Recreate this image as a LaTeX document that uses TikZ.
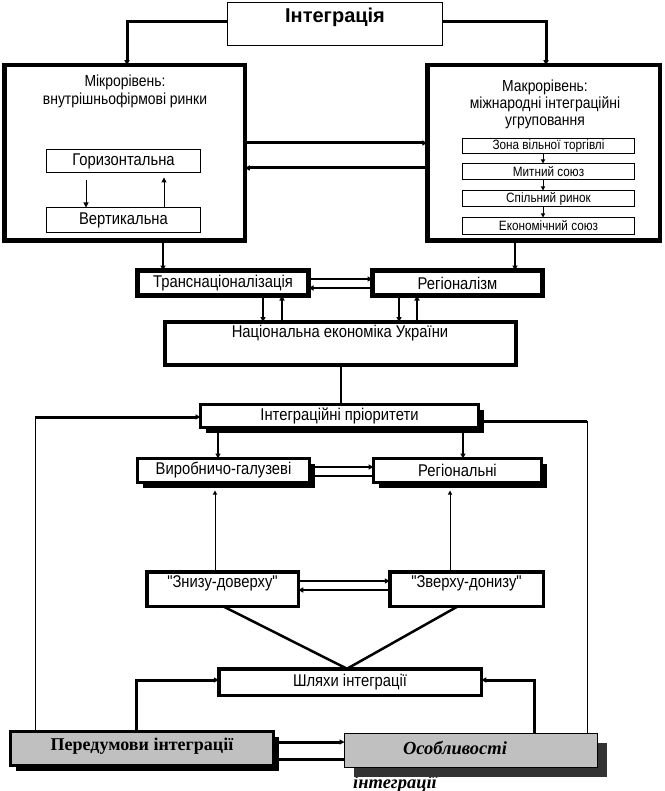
\documentclass[tikz,border=0pt]{standalone}
\usepackage{fontspec}
\setmainfont{Liberation Sans}[FakeStretch=0.87]
\newfontfamily\quotefont{Liberation Sans}[FakeStretch=0.87, Ligatures=TeXOff]
\newfontfamily\titlefont{Liberation Sans}
\newfontfamily\tnr{Liberation Serif}
\usetikzlibrary{arrows.meta,shadows}
\definecolor{boxgray}{HTML}{C0C0C0}
\definecolor{shgray}{HTML}{333333}
\begin{document}
\begin{tikzpicture}[x=1pt,y=-1pt,
  box/.style={draw, rectangle, inner sep=0pt, outer sep=0pt, align=center,
    font=\fontsize{17}{19}\selectfont},
  thinbox/.style={box, line width=1pt},
  bigbox/.style={box, line width=4.5pt},
  fatbox/.style={box, line width=5pt},
  midbox/.style={box, line width=3.5pt},
  shbox/.style={box, line width=3pt, fill=white,
    general shadow={fill=black, shadow xshift=5pt, shadow yshift=-5pt}},
  smallbox/.style={thinbox, font=\fontsize{13.5}{15}\selectfont},
  txt/.style={inner sep=0pt, align=center, font=\fontsize{17}{19}\selectfont},
  thk/.style={line width=3pt},
  med/.style={line width=2.5pt},
  thn/.style={line width=1pt},
  arr/.style={-{Triangle[length=5pt,width=5pt]}},
  sarr/.style={-{Triangle[length=4pt,width=4pt]}}
]
\useasboundingbox (0,0) rectangle (664,791);

% ---------- boxes ----------
\node[thinbox, minimum width=215, minimum height=43] (integ) at (335,24) {};
\node[txt, font=\fontsize{20}{22}\selectfont\titlefont\bfseries] (integt) at (335,17) {Інтеграція};

\node[bigbox, minimum width=240.5, minimum height=175.5] (micro) at (124.5,153) {};
\node[txt, font=\fontsize{16}{18}\selectfont] (microt) at (125,91) {Мікрорівень:\\внутрішньофірмові ринки};
\node[thinbox, minimum width=154, minimum height=23] (hor) at (123.5,161) {Горизонтальна};
\node[thinbox, minimum width=154, minimum height=25] (vert) at (123.5,220) {Вертикальна};

\node[bigbox, minimum width=232.5, minimum height=175.5] (macro) at (543.5,153) {};
\node[txt, font=\fontsize{16}{17}\selectfont] (macrot) at (545,104) {Макрорівень:\\міжнародні інтеграційні\\угруповання};
\node[smallbox, minimum width=172, minimum height=15] (zona) at (548.5,146) {Зона вільної торгівлі};
\node[smallbox, minimum width=172, minimum height=16] (mytn) at (548.5,171.5) {Митний союз};
\node[smallbox, minimum width=172, minimum height=16] (spil) at (548.5,198.5) {Спільний ринок};
\node[smallbox, minimum width=172, minimum height=17] (ekon) at (548.5,226) {Економічний союз};

\node[fatbox, minimum width=171, minimum height=25] (trans) at (223,283) {Транснаціоналізація};
\node[fatbox, minimum width=170, minimum height=25] (reg) at (457.5,283) {Регіоналізм};

\node[box, line width=4pt, minimum width=351, minimum height=43] (nat) at (340.5,343.5) {};
\node[txt] (natt) at (340,333) {Національна економіка України};

\node[shbox, minimum width=278, minimum height=23] (intpri) at (339.5,416) {Інтеграційні пріоритети};
\node[shbox, minimum width=172, minimum height=24] (vyrob) at (223.5,470.5) {Виробничо-галузеві};
\node[shbox, minimum width=168, minimum height=24] (regn) at (457.5,470.5) {Регіональні};

\node[midbox, minimum width=151.5, minimum height=34.5] (znyz) at (222.5,589) {};
\node[txt, font=\fontsize{17}{19}\selectfont\quotefont] (znyzt) at (222.5,583) {"Знизу-доверху"};
\node[midbox, minimum width=153.5, minimum height=34.5] (zverh) at (466.5,589) {};
\node[txt, font=\fontsize{17}{19}\selectfont\quotefont] (zverht) at (466.5,583) {"Зверху-донизу"};

\node[midbox, minimum width=262.5, minimum height=26.5] (shlyah) at (350,682) {Шляхи інтеграції};

\node[box, line width=3pt, fill=boxgray, minimum width=263, minimum height=34,
  general shadow={fill=black, shadow xshift=5pt, shadow yshift=-5pt}] (pered) at (142,748.5) {};
\node[txt, font=\fontsize{18}{20}\selectfont\tnr\bfseries] (peredt) at (142,746) {Передумови інтеграції};

\node[anchor=base west, inner sep=0pt, font=\fontsize{18.5}{20}\selectfont\tnr\bfseries\itshape] (osobt2) at (353,788) {інтеграції};
\node[box, line width=1pt, fill=boxgray, minimum width=253, minimum height=34,
  general shadow={fill=shgray, shadow xshift=9pt, shadow yshift=-9pt}] (osob) at (471,750.5) {};
\node[txt, font=\fontsize{18.5}{20}\selectfont\tnr\bfseries\itshape] (osobt) at (455,748) {Особливості};

% ---------- connectors ----------
\draw[thk,arr] (integ.west |- 0,22) -| (micro.north -| 127,0);
\draw[thk,arr] (integ.east |- 0,22) -| (macro.north -| 546,0);

\draw[thn,arr,shorten <=8pt] (hor.south -| 86,0) -- (vert.north -| 86,0);
\draw[thn,arr,shorten >=5pt] (vert.north -| 164,0) -- (hor.south -| 164,0);

\draw[thk,arr] (micro.east |- 0,143) -- (macro.west |- 0,143);
\draw[thk,arr] (macro.west |- 0,168) -- (micro.east |- 0,168);

\draw[thn,sarr] (zona.south -| 543,0) -- (mytn.north -| 543,0);
\draw[thn,sarr] (mytn.south -| 543,0) -- (spil.north -| 543,0);
\draw[thn,sarr] (spil.south -| 543,0) -- (ekon.north -| 543,0);

\draw[med,arr] (micro.south -| 163,0) -- (trans.north -| 163,0);
\draw[med,arr] (macro.south -| 515,0) -- (reg.north -| 515,0);

\draw[med,arr] (trans.east |- 0,279) -- (reg.west |- 0,279);
\draw[med,arr] (reg.west |- 0,288) -- (trans.east |- 0,288);

\draw[med,arr] (trans.south -| 263,0) -- (nat.north -| 263,0);
\draw[med,arr] (nat.north -| 282,0) -- (trans.south -| 282,0);
\draw[med,arr] (reg.south -| 399,0) -- (nat.north -| 399,0);
\draw[med,arr] (nat.north -| 417,0) -- (reg.south -| 417,0);

\draw[med] (nat.south -| 341,0) -- (intpri.north -| 341,0);

\coordinate (lc) at (35,417);
\draw[thn] (pered.north -| lc) -- (lc);
\draw[thk,arr] (lc) -- (intpri.west |- lc);
\coordinate (rc) at (587,421);
\draw[thk] (intpri.east |- rc) -- (rc);
\draw[thn] (rc) -- (osob.north -| rc);

\draw[med,arr] (intpri.south -| 218,0) -- (vyrob.north -| 218,0);
\draw[med,arr] (intpri.south -| 463,0) -- (regn.north -| 463,0);

\draw[med,arr] (vyrob.east |- 0,467) -- (regn.west |- 0,467);
\draw[med] (regn.west |- 0,476) -- (vyrob.east |- 0,476);

\draw[thn,sarr,shorten >=8pt] (znyz.north -| 215,0) -- (vyrob.south -| 215,0);
\draw[thn,sarr,shorten >=8pt] (zverh.north -| 450,0) -- (regn.south -| 450,0);

\draw[med,arr] (znyz.east |- 0,581) -- (zverh.west |- 0,581);
\draw[med,arr] (zverh.west |- 0,590) -- (znyz.east |- 0,590);

\draw[med] (znyz.south -| 223,0) -- (shlyah.north -| 347,0);
\draw[med] (zverh.south -| 458,0) -- (shlyah.north -| 347,0);

\draw[thk,arr] (pered.north -| 136,0) |- (shlyah.west |- 0,680);
\draw[thk,arr] (osob.north -| 534,0) |- (shlyah.east |- 0,680);

\draw[thk,arr] (pered.east |- 0,742) -- (osob.west |- 0,742);
\draw[thk] (pered.east |- 0,759) -- (osob.west |- 0,759);
\end{tikzpicture}
\end{document}
